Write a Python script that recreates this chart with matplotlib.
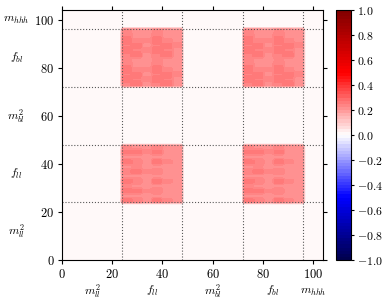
import numpy as np
import matplotlib
matplotlib.use("Agg")
import matplotlib.pyplot as plt
from matplotlib.ticker import FuncFormatter

plt.rcParams['mathtext.fontset'] = 'cm'
plt.rcParams['font.size'] = 9

# variable groups along both axes (size of each group in bins)
groups = [r'$m_{ll}^2$', r'$f_{ll}$', r'$m_{bl}^2$', r'$f_{bl}$', r'$m_{hhh}$']
group_size = [24, 24, 24, 24, 8]
group_label_pos = [12, 36, 60, 84, 100]

# correlation between groups (row = y group, col = x group)
block_corr = [
    [0.01, 0.01, 0.01, 0.01, 0.01],
    [0.01, 1.00, 0.01, 1.00, 0.01],
    [0.01, 0.01, 0.01, 0.01, 0.01],
    [0.01, 1.00, 0.01, 1.00, 0.01],
    [0.01, 0.01, 0.01, 0.01, 0.01],
]

# texture inside the f_ll rows (12 rows of 2 bins x 6 cols of 4 bins)
tex_fll = [
    [0.26, 0.25, 0.22, 0.26, 0.23, 0.22],
    [0.22, 0.22, 0.21, 0.22, 0.21, 0.21],
    [0.26, 0.26, 0.23, 0.25, 0.22, 0.22],
    [0.23, 0.22, 0.21, 0.22, 0.21, 0.21],
    [0.26, 0.25, 0.22, 0.26, 0.23, 0.22],
    [0.22, 0.22, 0.21, 0.22, 0.21, 0.21],
    [0.25, 0.26, 0.23, 0.25, 0.22, 0.22],
    [0.22, 0.23, 0.21, 0.22, 0.21, 0.21],
    [0.26, 0.25, 0.22, 0.26, 0.23, 0.22],
    [0.22, 0.22, 0.21, 0.22, 0.21, 0.21],
    [0.26, 0.26, 0.23, 0.26, 0.22, 0.22],
    [0.23, 0.22, 0.22, 0.23, 0.22, 0.22],
]
# texture inside the f_bl rows
tex_fbl = [
    [0.25, 0.26, 0.22, 0.25, 0.26, 0.22],
    [0.26, 0.25, 0.23, 0.26, 0.25, 0.22],
    [0.25, 0.26, 0.22, 0.25, 0.26, 0.23],
    [0.26, 0.23, 0.23, 0.26, 0.23, 0.22],
    [0.25, 0.22, 0.22, 0.25, 0.22, 0.22],
    [0.23, 0.22, 0.21, 0.23, 0.22, 0.21],
    [0.25, 0.26, 0.22, 0.25, 0.26, 0.22],
    [0.26, 0.25, 0.23, 0.26, 0.25, 0.22],
    [0.25, 0.26, 0.22, 0.25, 0.26, 0.23],
    [0.26, 0.23, 0.23, 0.26, 0.23, 0.22],
    [0.25, 0.22, 0.22, 0.25, 0.22, 0.22],
    [0.23, 0.22, 0.21, 0.23, 0.22, 0.21],
]
textures = {1: tex_fll, 3: tex_fbl}

n = sum(group_size)
edges = np.concatenate([[0], np.cumsum(group_size)])
Z = np.zeros((n, n))
for i in range(len(groups)):
    for j in range(len(groups)):
        r0, r1 = edges[i], edges[i + 1]
        c0, c1 = edges[j], edges[j + 1]
        if block_corr[i][j] >= 1.0:
            Z[r0:r1, c0:c1] = np.kron(np.array(textures[i]), np.ones((2, 4)))
        else:
            Z[r0:r1, c0:c1] = block_corr[i][j]

fig = plt.figure(figsize=(3.85, 3.06), dpi=100)
ax = fig.add_axes([0.161, 0.150, 0.678, 0.817])
cax = fig.add_axes([0.873, 0.150, 0.039, 0.817])

xy = np.linspace(0, n, n)
levels = np.linspace(-1, 1, 81)
cs = ax.contourf(xy, xy, Z, levels=levels, cmap='seismic', vmin=-1, vmax=1)

for e in edges[1:-1]:
    ax.axvline(e, color='0.35', ls=':', lw=0.8)
    ax.axhline(e, color='0.35', ls=':', lw=0.8)

ax.set_xlim(0, n)
ax.set_ylim(0, n)
ax.set_xticks([0, 20, 40, 60, 80, 100])
ax.set_yticks([0, 20, 40, 60, 80, 100])
fmt = FuncFormatter(lambda v, p: r'$%d$' % v)
ax.xaxis.set_major_formatter(fmt)
ax.yaxis.set_major_formatter(fmt)
ax.tick_params(direction='out', length=3, top=True, right=True, labelsize=9, pad=2.5)

for name, pos in zip(groups, group_label_pos):
    ax.text(pos, -0.125, name, transform=ax.get_xaxis_transform(),
            ha='center', va='center', fontsize=8.5)
    ax.text(-0.175, pos, name, transform=ax.get_yaxis_transform(),
            ha='center', va='center', fontsize=8.5)

cb = fig.colorbar(cs, cax=cax, ticks=np.linspace(-1, 1, 11))
cb.ax.yaxis.set_major_formatter(FuncFormatter(lambda v, p: r'$%.1f$' % v))
cb.ax.tick_params(direction='out', length=2.5, labelsize=8.5, pad=1.5)
cb.outline.set_linewidth(0.8)

fig.savefig('out.png', dpi=100)
